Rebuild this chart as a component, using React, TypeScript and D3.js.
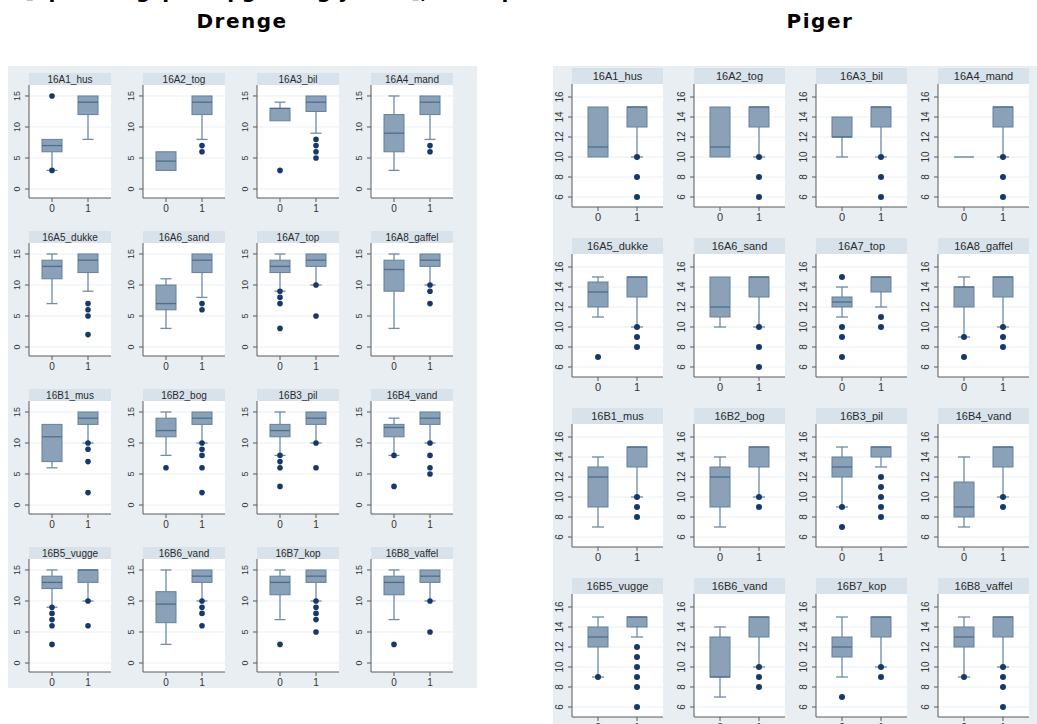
import React from "react";
import * as d3 from "d3";

const facetLabels = [
  "16A1_hus", "16A2_tog", "16A3_bil", "16A4_mand",
  "16A5_dukke", "16A6_sand", "16A7_top", "16A8_gaffel",
  "16B1_mus", "16B2_bog", "16B3_pil", "16B4_vand",
  "16B5_vugge", "16B6_vand", "16B7_kop", "16B8_vaffel",
];
const xCategories = ["0", "1"];
const drengeTicks = [0, 5, 10, 15];
const pigerTicks = [6, 8, 10, 12, 14, 16];

// [lower whisker, q1, median, q3, upper whisker]
const drengeBox0 = [
  [3, 6, 7, 8, 8], [3, 3, 4.5, 6, 6], [11, 11, 13, 13, 14], [3, 6, 9, 12, 15],
  [7, 11, 13, 14, 15], [3, 6, 7, 10, 11], [9, 12, 13, 14, 15], [3, 9, 12.5, 14, 15],
  [6, 7, 11, 13, 13], [8, 11, 12, 14, 15], [8, 11, 12, 13, 15], [8, 11, 12.5, 13, 14],
  [9, 12, 13, 14, 15], [3, 6.5, 9.5, 11.5, 15], [7, 11, 13, 14, 15], [7, 11, 13, 14, 15],
];
const drengeBox1 = [
  [8, 12, 14, 15, 15], [8, 12, 14, 15, 15], [9, 12.5, 14, 15, 15], [8, 12, 14, 15, 15],
  [9, 12, 14, 15, 15], [8, 12, 14, 15, 15], [10, 13, 14, 15, 15], [10, 13, 14, 15, 15],
  [10, 13, 14, 15, 15], [10, 13, 14, 15, 15], [10, 13, 14, 15, 15], [10, 13, 14, 15, 15],
  [10, 13, 15, 15, 15], [10, 13, 14, 15, 15], [10, 13, 14, 15, 15], [10, 13, 14, 15, 15],
];
const drengeOut0 = [
  [15, 3], [], [3], [],
  [], [], [9, 8, 7, 3], [],
  [], [6], [8, 7, 6, 3], [8, 3],
  [9, 8, 7, 6, 3], [], [3], [3],
];
const drengeOut1 = [
  [], [7, 6], [8, 7, 6, 5], [7, 6],
  [7, 6, 5, 2], [7, 6], [10, 5], [10, 9, 7],
  [10, 9, 7, 2], [10, 9, 8, 6, 2], [10, 6], [10, 8, 6, 5],
  [10, 6], [10, 9, 8, 6], [10, 9, 8, 7, 5], [10, 5],
];

const pigerBox0 = [
  [10, 10, 11, 15, 15], [10, 10, 11, 15, 15], [10, 12, 12, 14, 14], [10, 10, 10, 10, 10],
  [11, 12, 13.5, 14.5, 15], [10, 11, 12, 15, 15], [11, 12, 12.5, 13, 14], [9, 12, 14, 14, 15],
  [7, 9, 12, 13, 14], [7, 9, 12, 13, 14], [9, 12, 13, 14, 15], [7, 8, 9, 11.5, 14],
  [9, 12, 13, 14, 15], [7, 9, 9, 13, 14], [9, 11, 12, 13, 15], [9, 12, 13, 14, 15],
];
const pigerBox1 = [
  [10, 13, 15, 15, 15], [10, 13, 15, 15, 15], [10, 13, 15, 15, 15], [10, 13, 15, 15, 15],
  [10, 13, 15, 15, 15], [10, 13, 15, 15, 15], [12, 13.5, 15, 15, 15], [10, 13, 15, 15, 15],
  [10, 13, 15, 15, 15], [10, 13, 15, 15, 15], [13, 14, 15, 15, 15], [10, 13, 15, 15, 15],
  [13, 14, 15, 15, 15], [10, 13, 15, 15, 15], [10, 13, 15, 15, 15], [10, 13, 15, 15, 15],
];
const pigerOut0 = [
  [], [], [], [],
  [7], [], [15, 10, 9, 7], [9, 7],
  [], [], [9, 7], [],
  [9], [], [7], [9],
];
const pigerOut1 = [
  [10, 8, 6], [10, 8, 6], [10, 8, 6], [10, 8, 6],
  [10, 9, 8], [10, 8, 6], [11, 10], [10, 9, 8],
  [10, 9, 8], [10, 9], [12, 11, 10, 9, 8], [10, 9],
  [12, 11, 10, 9, 8, 6], [10, 9, 8], [10, 9], [10, 9, 8, 6],
];

type Layout = {
  left0: number; colStep: number; plotW: number; inset: number;
  header0: number; headerH: number; rowStep: number; plotH: number;
  domain: [number, number]; ticks: number[]; fs: number; labelOff: number;
  boxW: number; capW: number; r: number;
};

const drengeLayout: Layout = {
  left0: 29, colStep: 114, plotW: 82, inset: 23,
  header0: 73, headerH: 12, rowStep: 158, plotH: 113,
  domain: [-1.45, 16.77], ticks: drengeTicks, fs: 9, labelOff: 12,
  boxW: 20, capW: 11, r: 2.8,
};
const pigerLayout: Layout = {
  left0: 572, colStep: 122, plotW: 91, inset: 26,
  header0: 68, headerH: 16, rowStep: 170, plotH: 123,
  domain: [5.0, 17.3], ticks: pigerTicks, fs: 10, labelOff: 12,
  boxW: 20, capW: 12, r: 3,
};

const BOX_FILL = "#8aa1b7";
const BOX_STROKE = "#62809d";
const MED = "#4f6d8c";
const WHISK = "#6f8ca8";
const DOT = "#16386a";

function Facet({ L, i, boxes, outs }: { L: Layout; i: number; boxes: number[][][]; outs: number[][][] }) {
  const col = i % 4;
  const row = Math.floor(i / 4);
  const left = L.left0 + col * L.colStep;
  const hTop = L.header0 + row * L.rowStep;
  const top = hTop + L.headerH;
  const bottom = top + L.plotH;
  const y = d3.scaleLinear().domain(L.domain).range([bottom, top]);
  const x = d3.scalePoint<string>().domain(xCategories).range([left + L.inset, left + L.plotW - L.inset]);
  const font = "'Liberation Sans', Arial, sans-serif";
  return (
    <g>
      <rect x={left} y={hTop} width={L.plotW} height={L.headerH} fill="#d8e2ea" />
      <text x={left + L.plotW / 2} y={hTop + L.headerH / 2 + 3.5} textAnchor="middle" fontSize={L.headerH > 13 ? 11 : 10} fill="#2a2a2a" fontFamily={font}>{facetLabels[i]}</text>
      <rect x={left} y={top} width={L.plotW} height={L.plotH} fill="#ffffff" />
      {L.ticks.map((t) => (
        <line key={"g" + t} x1={left} x2={left + L.plotW} y1={y(t)} y2={y(t)} stroke="#eaeff3" strokeWidth={1} />
      ))}
      {xCategories.map((c, gi) => {
        const b = boxes[gi][i];
        const cx = x(c)!;
        const [lw, q1, md, q3, hw] = b;
        const flat = q1 === q3;
        return (
          <g key={c}>
            {lw < q1 && <line x1={cx} x2={cx} y1={y(lw)} y2={y(q1)} stroke={WHISK} strokeWidth={1.3} />}
            {lw < q1 && <line x1={cx - L.capW / 2} x2={cx + L.capW / 2} y1={y(lw)} y2={y(lw)} stroke={WHISK} strokeWidth={1.3} />}
            {hw > q3 && <line x1={cx} x2={cx} y1={y(hw)} y2={y(q3)} stroke={WHISK} strokeWidth={1.3} />}
            {hw > q3 && <line x1={cx - L.capW / 2} x2={cx + L.capW / 2} y1={y(hw)} y2={y(hw)} stroke={WHISK} strokeWidth={1.3} />}
            {flat ? (
              <line x1={cx - L.boxW / 2} x2={cx + L.boxW / 2} y1={y(md)} y2={y(md)} stroke={WHISK} strokeWidth={1.5} />
            ) : (
              <rect x={cx - L.boxW / 2} y={y(q3)} width={L.boxW} height={y(q1) - y(q3)} fill={BOX_FILL} stroke={BOX_STROKE} strokeWidth={1} />
            )}
            {!flat && <line x1={cx - L.boxW / 2} x2={cx + L.boxW / 2} y1={y(md)} y2={y(md)} stroke={MED} strokeWidth={1.3} />}
            {outs[gi][i].map((v, k) => (
              <circle key={k} cx={cx} cy={y(v)} r={L.r} fill={DOT} />
            ))}
          </g>
        );
      })}
      <line x1={left} x2={left} y1={top} y2={bottom} stroke="#5a5a5a" strokeWidth={1} />
      <line x1={left} x2={left + L.plotW} y1={bottom} y2={bottom} stroke="#5a5a5a" strokeWidth={1} />
      {L.ticks.map((t) => (
        <g key={"t" + t}>
          <line x1={left - 4} x2={left} y1={y(t)} y2={y(t)} stroke="#5a5a5a" />
          <text transform={`translate(${left - L.labelOff + 3},${y(t)}) rotate(-90)`} textAnchor="middle" fontSize={L.fs} fill="#333" fontFamily={font}>{t}</text>
        </g>
      ))}
      {xCategories.map((c) => (
        <g key={"x" + c}>
          <line x1={x(c)!} x2={x(c)!} y1={bottom} y2={bottom + 4} stroke="#5a5a5a" />
          <text x={x(c)!} y={bottom + 14} textAnchor="middle" fontSize={L.fs + 1} fill="#333" fontFamily={font}>{c}</text>
        </g>
      ))}
    </g>
  );
}

export default function App() {
  const titleFont = "'DejaVu Sans', Verdana, sans-serif";
  return (
    <svg width={1037} height={724} style={{ position: "absolute", left: 0, top: 0, background: "#fff" }}>
      <rect x={0} y={0} width={1037} height={724} fill="#ffffff" />
      <text x={25} y={-2} fontSize={20} fontWeight="bold" fontFamily={titleFont} fill="#000">[Spredningsplot opgave og ydelse], Antal points</text>
      <text x={242} y={28} textAnchor="middle" fontSize={20} fontWeight="bold" letterSpacing={1.5} fontFamily={titleFont} fill="#000">Drenge</text>
      <text x={820} y={28} textAnchor="middle" fontSize={20} fontWeight="bold" letterSpacing={1.5} fontFamily={titleFont} fill="#000">Piger</text>
      <rect x={8} y={66} width={469} height={622} fill="#e8eef2" />
      <rect x={553} y={66} width={484} height={660} fill="#e8eef2" />
      {facetLabels.map((_, i) => (
        <Facet key={"d" + i} L={drengeLayout} i={i} boxes={[drengeBox0, drengeBox1]} outs={[drengeOut0, drengeOut1]} />
      ))}
      {facetLabels.map((_, i) => (
        <Facet key={"p" + i} L={pigerLayout} i={i} boxes={[pigerBox0, pigerBox1]} outs={[pigerOut0, pigerOut1]} />
      ))}
    </svg>
  );
}
